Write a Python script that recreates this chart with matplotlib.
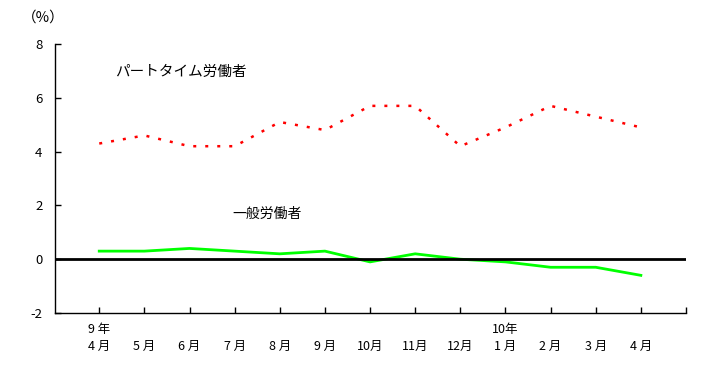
import matplotlib
matplotlib.use('Agg')
import matplotlib.pyplot as plt

plt.rcParams['font.family'] = ['Noto Sans CJK JP', 'DejaVu Sans']

# データ(前年同月比, %)
meses = ['9 年\n4 月', '\n5 月', '\n6 月', '\n7 月', '\n8 月', '\n9 月', '\n10月',
         '\n11月', '\n12月', '10年\n1 月', '\n2 月', '\n3 月', '\n4 月']
parte = [4.3, 4.6, 4.2, 4.2, 5.1, 4.8, 5.7, 5.7, 4.2, 4.9, 5.7, 5.3, 4.9]
general = [0.3, 0.3, 0.4, 0.3, 0.2, 0.3, -0.1, 0.2, 0.0, -0.1, -0.3, -0.3, -0.6]
yticks = [-2, 0, 2, 4, 6, 8]

x = list(range(len(meses)))

fig = plt.figure(figsize=(7.27, 3.68), dpi=100)
ax = fig.add_axes([55/727, 1-313/368, (686-55)/727, (313-44)/368])

ax.plot(x, parte, c='#ff0000', lw=1.8, ls=(0, (1.2, 3.6)), zorder=3)  # パート
ax.plot(x, general, c='#00ff00', lw=2, zorder=3)  # 一般
ax.axhline(0, c='k', lw=2, zorder=4)

ax.set_xlim(-0.98, 13)
ax.set_ylim(-2, 8)
ax.set_yticks(yticks)
ax.set_yticklabels([str(v) for v in yticks], fontsize=9.5)
ax.set_xticks(x + [13])
ax.set_xticklabels(meses + [''], fontsize=9, linespacing=1.45)

for s in ['top', 'right']:
    ax.spines[s].set_visible(False)
ax.spines['left'].set_linewidth(1)
ax.spines['bottom'].set_linewidth(1)
ax.tick_params(axis='both', direction='in', length=4, width=1)
ax.tick_params(axis='x', pad=7)
ax.tick_params(axis='y', pad=9)

fig.text(22/727, 1-18/368, '（%）', fontsize=10.5, va='center', ha='left')
ax.text(0.35, 6.95, 'パートタイム労働者', fontsize=10.5, va='center', ha='left')
ax.text(2.95, 1.7, '一般労働者', fontsize=10, va='center', ha='left')

fig.savefig('out.png', dpi=100)
